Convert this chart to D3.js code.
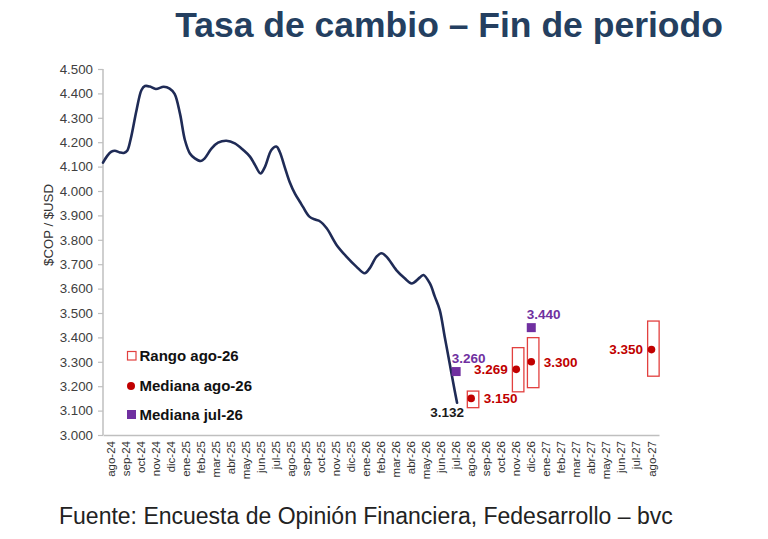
<!DOCTYPE html>
<html>
<head>
<meta charset="utf-8">
<script src="https://cdn.jsdelivr.net/npm/d3@7"></script>
<style>
  html, body { margin: 0; padding: 0; background: #ffffff; }
  svg { display: block; font-family: "Liberation Sans", Arial, sans-serif; }
</style>
</head>
<body>
<svg id="chart" width="768" height="539"></svg>
<script>
// ---------- DATA ----------
const months = ["ago-24","sep-24","oct-24","nov-24","dic-24","ene-25","feb-25","mar-25","abr-25","may-25","jun-25","jul-25","ago-25","sep-25","oct-25","nov-25","dic-25","ene-26","feb-26","mar-26","abr-26","may-26","jun-26","jul-26","ago-26","sep-26","oct-26","nov-26","dic-26","ene-27","feb-27","mar-27","abr-27","may-27","jun-27","jul-27","ago-27"];

const yTicks = [3000,3100,3200,3300,3400,3500,3600,3700,3800,3900,4000,4100,4200,4300,4400,4500];

// Observed exchange rate (end of period trace)
const histDates = ["2024-08-01","2024-08-10","2024-08-18","2024-08-25","2024-09-04","2024-09-12","2024-09-19","2024-09-26","2024-10-08","2024-10-18","2024-10-25","2024-11-04","2024-11-16","2024-12-02","2024-12-14","2024-12-24","2025-01-04","2025-01-14","2025-01-24","2025-02-03","2025-02-15","2025-02-23","2025-03-09","2025-03-22","2025-04-08","2025-04-25","2025-05-12","2025-05-26","2025-06-05","2025-06-16","2025-06-25","2025-07-08","2025-07-18","2025-07-25","2025-08-04","2025-08-14","2025-08-25","2025-09-04","2025-09-10","2025-09-23","2025-10-06","2025-10-14","2025-10-28","2025-11-17","2025-12-07","2025-12-27","2026-01-13","2026-01-23","2026-02-06","2026-02-16","2026-02-26","2026-03-18","2026-04-04","2026-04-18","2026-05-05","2026-05-12","2026-05-25","2026-06-04","2026-06-14","2026-06-24","2026-07-04","2026-07-14","2026-07-19"];
const histValues = [4116,4145,4161,4165,4158,4156,4165,4212,4332,4414,4430,4428,4418,4427,4420,4398,4316,4208,4154,4134,4123,4134,4175,4198,4206,4195,4168,4140,4106,4072,4099,4168,4182,4160,4098,4037,3988,3955,3935,3895,3882,3876,3847,3779,3731,3690,3663,3683,3731,3745,3731,3676,3642,3621,3646,3656,3621,3567,3512,3403,3294,3184,3132];
const lastValueLabel = "3.132";

// Survey ago-26: range and median
const forecastMonths = ["ago-26","nov-26","dic-26","ago-27"];
const rangeLow  = [3112, 3177, 3194, 3241];
const rangeHigh = [3180, 3358, 3399, 3467];
const medianAgo26 = [3150, 3269, 3300, 3350];
const medianAgo26Side = ["right","left","right","left"];

// Survey jul-26: median
const julMonths = ["jul-26","dic-26"];
const medianJul26 = [3260, 3440];

const legendLabels = ["Rango ago-26","Mediana ago-26","Mediana jul-26"];
const titleText = "Tasa de cambio \u2013 Fin de periodo";
const yAxisTitle = "$COP / $USD";
const sourceText = "Fuente: Encuesta de Opini\u00f3n Financiera, Fedesarrollo \u2013 bvc";

// ---------- LAYOUT ----------
const plot = { left: 103, right: 659, top: 69, bottom: 435 };
const colors = {
  line: "#1f2b56", axis: "#bfbfbf", tick: "#404040",
  red: "#c00000", box: "#e2403f", purple: "#7030a0",
  title: "#243f60", text: "#111111"
};
const fmt = v => d3.format(",")(v).replace(/,/g, ".");

const svg = d3.select("#chart");
svg.append("rect").attr("width", 768).attr("height", 539).attr("fill", "#fff");

const x = d3.scaleBand().domain(months).range([plot.left, plot.right]).padding(0);
const xc = m => x(m) + x.bandwidth() / 2;
const parse = d3.timeParse("%Y-%m-%d");
const xt = d3.scaleTime()
  .domain([parse("2024-08-01"), parse("2027-09-01")])
  .range([plot.left, plot.right]);
const y = d3.scaleLinear().domain([3000, 4500]).range([plot.bottom, plot.top]);

// Title
svg.append("text")
  .attr("x", 449).attr("y", 37)
  .attr("text-anchor", "middle")
  .attr("font-size", 35.5).attr("font-weight", "bold")
  .attr("fill", colors.title)
  .text(titleText);

// Y axis
const yAxis = d3.axisLeft(y).tickValues(yTicks).tickSize(5).tickPadding(5).tickFormat(fmt);
const gy = svg.append("g").attr("transform", `translate(${plot.left},0)`).call(yAxis);
gy.select(".domain").attr("stroke", colors.axis).attr("stroke-width", 1.5).attr("d", `M0,${plot.top}V${plot.bottom}`);
gy.selectAll(".tick line").attr("stroke", colors.axis).attr("stroke-width", 1.2);
gy.selectAll(".tick text").attr("fill", colors.tick).attr("font-size", 13.3)
  .attr("font-family", "Liberation Sans, Arial, sans-serif");

// Y axis title
svg.append("text")
  .attr("transform", "translate(48.5,225) rotate(-90)")
  .attr("text-anchor", "middle").attr("dy", "0.35em")
  .attr("font-size", 13.2).attr("fill", "#333")
  .text(yAxisTitle);

// X axis
const xAxis = d3.axisBottom(x).tickSize(0).tickPadding(0);
const gx = svg.append("g").attr("transform", `translate(0,${plot.bottom})`).call(xAxis);
gx.select(".domain").attr("stroke", colors.axis).attr("stroke-width", 1.5);
gx.selectAll(".tick text")
  .attr("font-size", 11.5).attr("fill", "#333")
  .attr("font-family", "Liberation Sans, Arial, sans-serif")
  .attr("text-anchor", "end")
  .attr("transform", "translate(0,6) rotate(-90)")
  .attr("x", 0).attr("y", 0).attr("dy", "0.35em");

// Historical line
const hist = histDates.map((d, i) => ({ date: parse(d), value: histValues[i] }));
const line = d3.line().x(d => xt(d.date)).y(d => y(d.value)).curve(d3.curveCatmullRom.alpha(0.5));
svg.append("path").datum(hist)
  .attr("d", line)
  .attr("fill", "none").attr("stroke", colors.line)
  .attr("stroke-width", 2.6).attr("stroke-linejoin", "round").attr("stroke-linecap", "round");
const last = hist[hist.length - 1];
svg.append("text")
  .attr("x", xt(last.date) - 10).attr("y", y(last.value) + 9)
  .attr("text-anchor", "middle").attr("dy", "0.35em")
  .attr("font-size", 13.5).attr("font-weight", "bold").attr("fill", "#1a1a1a")
  .text(lastValueLabel);

// Range boxes (ago-26 survey)
const boxW = 11.5, boxOff = 1.9;
forecastMonths.forEach((m, i) => {
  svg.append("rect")
    .attr("x", xc(m) + boxOff - boxW / 2)
    .attr("y", y(rangeHigh[i]))
    .attr("width", boxW)
    .attr("height", y(rangeLow[i]) - y(rangeHigh[i]))
    .attr("fill", "none").attr("stroke", colors.box).attr("stroke-width", 1.3);
});

// Median ago-26 dots + labels
forecastMonths.forEach((m, i) => {
  const cx = xc(m), cy = y(medianAgo26[i]);
  svg.append("circle").attr("cx", cx).attr("cy", cy).attr("r", 3.8).attr("fill", colors.red);
  const right = medianAgo26Side[i] === "right";
  svg.append("text")
    .attr("x", right ? cx + 12.5 : cx - 8.5).attr("y", cy)
    .attr("dy", "0.35em")
    .attr("text-anchor", right ? "start" : "end")
    .attr("font-size", 13.5).attr("font-weight", "bold").attr("fill", colors.red)
    .text(fmt(medianAgo26[i]));
});

// Median jul-26 squares + labels
const sq = 9;
julMonths.forEach((m, i) => {
  const cx = xc(m), cy = y(medianJul26[i]);
  svg.append("rect")
    .attr("x", cx - sq / 2).attr("y", cy - sq / 2)
    .attr("width", sq).attr("height", sq).attr("fill", colors.purple);
  svg.append("text")
    .attr("x", cx - sq / 2).attr("y", cy - 13)
    .attr("dy", "0.35em")
    .attr("font-size", 13.5).attr("font-weight", "bold").attr("fill", colors.purple)
    .text(fmt(medianJul26[i]));
});

// Legend
const lg = svg.append("g").attr("transform", "translate(127,0)");
const rowY = [356, 386, 414.5];
lg.append("rect").attr("x", 0.5).attr("y", rowY[0] - 4.5).attr("width", 8.5).attr("height", 8.5)
  .attr("fill", "#fff").attr("stroke", colors.box).attr("stroke-width", 1.2);
lg.append("circle").attr("cx", 4).attr("cy", rowY[1]).attr("r", 4).attr("fill", colors.red);
lg.append("rect").attr("x", 0).attr("y", rowY[2] - 4.5).attr("width", 9).attr("height", 9).attr("fill", colors.purple);
legendLabels.forEach((t, i) => {
  lg.append("text")
    .attr("x", 12.5).attr("y", rowY[i]).attr("dy", "0.35em")
    .attr("font-size", 15).attr("font-weight", "bold").attr("fill", colors.text)
    .text(t);
});

// Source
svg.append("text")
  .attr("x", 59).attr("y", 524)
  .attr("font-size", 23).attr("fill", "#222")
  .text(sourceText);
</script>
</body>
</html>
